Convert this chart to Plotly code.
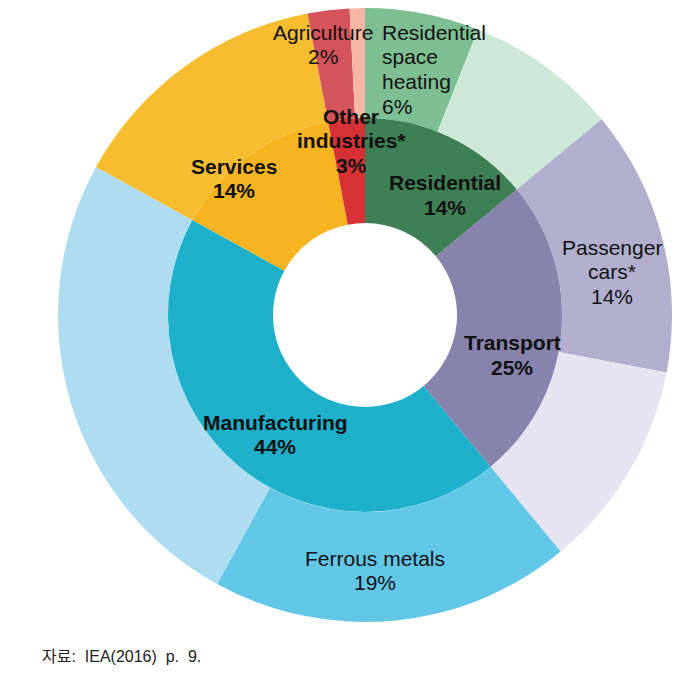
import plotly.graph_objects as go

OFF = 8  # page body margin in the browser
W, H = 681 - 2 * OFF, 677 - 2 * OFF

# ---- data ----
inner_labels = ["Residential", "Transport", "Manufacturing", "Services", "Other industries*"]
inner_values = [14, 25, 44, 14, 3]
inner_colors = ["#3E7F55", "#8783AC", "#1EB0CB", "#F6B520", "#D63236"]

outer_labels = ["Residential space heating", "Residential other", "Passenger cars*",
                "Transport other", "Ferrous metals", "Manufacturing other",
                "Services", "Agriculture", "Other industries other"]
outer_values = [6, 8, 14, 11, 19, 25, 14, 2.2, 0.8]
outer_colors = ["#7DBF92", "#CDE8D6", "#B2AFCE", "#E5E4F0", "#62C7E7", "#AEDDF2",
                "#F6BD31", "#D5535A", "#F5B7A4"]

# ---- geometry (pixels, in screenshot coordinates) ----
cx, cy = 365 - OFF, 315 - OFF
R_out, R_in, R_hole = 307, 197, 92


def dom(r):
    x0, x1 = max(0, (cx - r) / W), min(1, (cx + r) / W)
    y0, y1 = max(0, 1 - (cy + r) / H), min(1, 1 - (cy - r) / H)
    return dict(x=[x0, x1], y=[y0, y1])


fig = go.Figure()
fig.add_trace(go.Pie(labels=outer_labels, values=outer_values, sort=False,
                     direction="clockwise", rotation=0, hole=R_in / R_out,
                     domain=dom(R_out), marker=dict(colors=outer_colors, line=dict(width=0)),
                     textinfo="none", hoverinfo="label+value", showlegend=False))
fig.add_trace(go.Pie(labels=inner_labels, values=inner_values, sort=False,
                     direction="clockwise", rotation=0, hole=R_hole / R_in,
                     domain=dom(R_in), marker=dict(colors=inner_colors, line=dict(width=0)),
                     textinfo="none", hoverinfo="label+value", showlegend=False))

FONT = "Liberation Sans, Arial, sans-serif"
LINE = 24.7
# (lines, x_px, first-line y_px, bold, anchor)
labels = [
    (["Agriculture", "2%"], 323, 32, False, "center"),
    (["Residential", "space", "heating", "6%"], 380, 32, False, "left"),
    (["Other", "industries*", "3%"], 351, 116, True, "center"),
    (["Services", "14%"], 234, 166, True, "center"),
    (["Residential", "14%"], 445, 183, True, "center"),
    (["Passenger", "cars*", "14%"], 612, 247, False, "center"),
    (["Transport", "25%"], 512, 343, True, "center"),
    (["Manufacturing", "44%"], 275, 422, True, "center"),
    (["Ferrous metals", "19%"], 375, 558, False, "center"),
]
for lines, x, y0, b, anc in labels:
    for i, t in enumerate(lines):
        y = y0 + i * LINE
        fig.add_annotation(text=f"<b>{t}</b>" if b else t, x=(x - OFF) / W,
                           y=1 - (y - OFF) / H, xref="paper", yref="paper",
                           xanchor=anc, yanchor="middle", showarrow=False,
                           font=dict(family=FONT, size=21, color="#111111"))

fig.add_annotation(text="자료:  IEA(2016)  p.  9.", x=(40 - OFF) / W, y=1 - (656 - OFF) / H,
                   xref="paper", yref="paper", xanchor="left", yanchor="middle",
                   showarrow=False,
                   font=dict(family="Liberation Sans, Noto Sans CJK KR, sans-serif", size=16,
                             color="#222222"))

fig.update_layout(width=W, height=H, margin=dict(l=0, r=0, t=0, b=0),
                  paper_bgcolor="white", plot_bgcolor="white")
fig.write_html("out.html")
